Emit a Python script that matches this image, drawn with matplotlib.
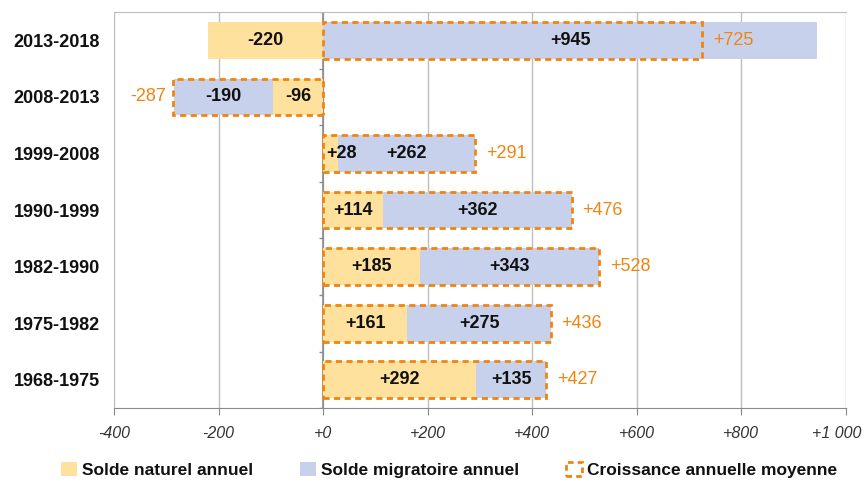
import numpy as np
import matplotlib
matplotlib.use("Agg")
import matplotlib.pyplot as plt
import matplotlib.transforms as mtransforms
from matplotlib.patches import Patch

plt.rcParams["font.family"] = ["Liberation Sans", "DejaVu Sans"]

periods = ["1968-1975", "1975-1982", "1982-1990", "1990-1999",
           "1999-2008", "2008-2013", "2013-2018"]
naturel = [292, 161, 185, 114, 28, -96, -220]
migratoire = [135, 275, 343, 362, 262, -190, 945]
croissance = [427, 436, 528, 476, 291, -287, 725]
xticks = [-400, -200, 0, 200, 400, 600, 800, 1000]

YELLOW = "#FEE19D"
LAVENDER = "#C8D1EC"
ORANGE = "#F0840F"
TXT = "#111111"
FS = 13


def fmt(v):
    s = f"{abs(v):,.0f}".replace(",", "\u00a0")
    return ("+" if v >= 0 else "-") + s


fig = plt.figure(figsize=(8.67, 4.83), dpi=100)
ax = fig.add_axes([0.1315, 0.155, 0.8443, 0.82])

y = np.arange(len(periods))
h = 0.65
nat = np.array(naturel)
mig = np.array(migratoire)
mig_left = np.where(np.sign(nat) == np.sign(mig), nat, 0)

ax.barh(y, nat, height=h, color=YELLOW, zorder=2)
ax.barh(y, mig, left=mig_left, height=h, color=LAVENDER, zorder=2)
ax.barh(y, croissance, height=h, facecolor="none", edgecolor=ORANGE,
        linestyle=(0, (2.2, 1.6)), linewidth=2, zorder=3)

for i in range(len(periods)):
    # natural label (small segments: start just right of the axis)
    if abs(nat[i]) < 50:
        ax.text(6, y[i], fmt(nat[i]), ha="left", va="center",
                fontsize=FS, fontweight="bold", color=TXT, zorder=4)
    else:
        ax.text(nat[i] / 2, y[i], fmt(nat[i]), ha="center", va="center",
                fontsize=FS, fontweight="bold", color=TXT, zorder=4)
    cx = mig_left[i] + mig[i] / 2
    ax.text(cx, y[i], fmt(mig[i]), ha="center", va="center",
            fontsize=FS, fontweight="bold", color=TXT, zorder=4)
    c = croissance[i]
    if c >= 0:
        ax.text(c + 20, y[i], fmt(c), ha="left", va="center",
                fontsize=FS, color=ORANGE, zorder=4)
    else:
        ax.text(c - 14, y[i], fmt(c), ha="right", va="center",
                fontsize=FS, color=ORANGE, zorder=4)

ax.set_xlim(-400, 1000)
ax.set_ylim(-0.5, len(periods) - 0.5)
ax.set_xticks(xticks, [fmt(t) for t in xticks], fontstyle="italic",
              fontsize=11.5, color="#333333")
ax.grid(axis="x", color="#BDBDBD", linewidth=1, zorder=0)
ax.set_axisbelow(True)

ax.set_yticks(y)
ax.set_yticklabels(periods, fontsize=FS, fontweight="bold", color=TXT)
ax.tick_params(axis="y", length=0, pad=10)
ax.tick_params(axis="x", length=5, color="#8A8A8A", pad=8)

# last label nudged left so it stays inside the figure
last = ax.get_xticklabels()[-1]
last.set_transform(last.get_transform() +
                   mtransforms.ScaledTranslation(-9 / 100, 0, fig.dpi_scale_trans))

# y axis at zero, with small ticks between categories
ax.axvline(0, color="#8A8A8A", linewidth=1.2, zorder=1)
ax.hlines(np.arange(-0.5, len(periods)), -8, 0, color="#8A8A8A",
          linewidth=1, zorder=1)

for side in ("left", "right"):
    ax.spines[side].set_visible(False)
ax.spines["top"].set_color("#BDBDBD")
ax.spines["bottom"].set_color("#8A8A8A")

handles = [
    Patch(facecolor=YELLOW, edgecolor="none", label="Solde naturel annuel"),
    Patch(facecolor=LAVENDER, edgecolor="none", label="Solde migratoire annuel"),
    Patch(facecolor="none", edgecolor=ORANGE, linestyle=(0, (2, 1.5)),
          linewidth=2, label="Croissance annuelle moyenne"),
]
leg = fig.legend(handles=handles, loc="lower center", ncol=3,
                 bbox_to_anchor=(0.518, -0.022), frameon=False,
                 prop={"size": 12.5, "weight": "bold"},
                 handlelength=0.9, handleheight=0.9, handletextpad=0.3,
                 columnspacing=2.7)
for t in leg.get_texts():
    t.set_color(TXT)

fig.savefig("out.png", dpi=100)
